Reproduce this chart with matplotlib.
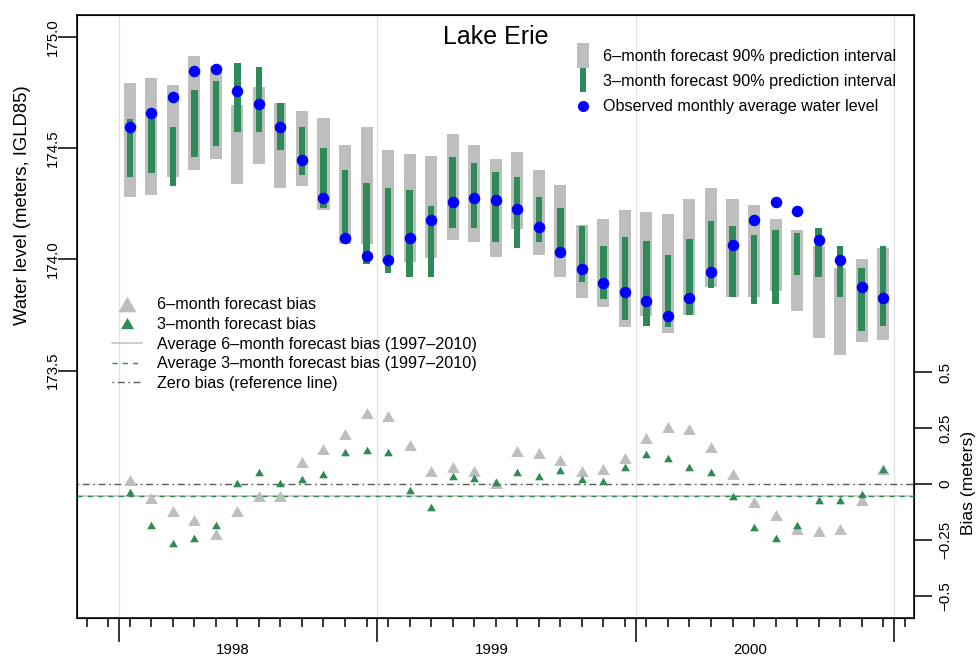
import matplotlib.pyplot as plt
import numpy as np
from matplotlib.lines import Line2D
from matplotlib.transforms import blended_transform_factory

plt.rcParams['font.family'] = ['Liberation Sans', 'DejaVu Sans']

# monthly values Jan 1998 .. Dec 2000 (index 0 = Jan 1998, plotted mid-month)
months = np.arange(36)
years = ['1998', '1999', '2000']

observed = [174.596, 174.656, 174.728, 174.847, 174.856, 174.758, 174.696, 174.596, 174.446, 174.275,
            174.094, 174.015, 173.997, 174.094, 174.175, 174.256, 174.274, 174.265, 174.226, 174.147,
            174.034, 173.955, 173.894, 173.855, 173.813, 173.745, 173.825, 173.945, 174.064, 174.175,
            174.256, 174.216, 174.085, 173.995, 173.876, 173.826]

six_lo = [174.280, 174.289, 174.370, 174.400, 174.449, 174.340, 174.430, 174.319, 174.329, 174.220,
          174.067, 174.069, 173.989, 173.989, 174.007, 174.088, 174.079, 174.009, 174.138, 174.019,
          173.919, 173.828, 173.787, 173.698, 173.747, 173.668, 173.750, 173.877, 173.829, 173.829,
          173.859, 173.769, 173.648, 173.570, 173.629, 173.638]
six_hi = [174.794, 174.814, 174.783, 174.915, 174.870, 174.693, 174.774, 174.704, 174.665, 174.633,
          174.514, 174.593, 174.492, 174.473, 174.463, 174.563, 174.512, 174.452, 174.482, 174.401,
          174.332, 174.153, 174.181, 174.220, 174.211, 174.202, 174.271, 174.322, 174.271, 174.242,
          174.181, 174.132, 174.061, 173.961, 174.001, 174.051]

three_lo = [174.371, 174.389, 174.331, 174.461, 174.511, 174.572, 174.572, 174.491, 174.380, 174.229,
            174.117, 173.979, 173.940, 173.919, 173.919, 174.139, 174.139, 174.079, 174.049, 174.079,
            174.012, 173.900, 173.820, 173.727, 173.700, 173.697, 173.750, 173.870, 173.829, 173.799,
            173.799, 173.930, 173.919, 173.829, 173.680, 173.700]
three_hi = [174.632, 174.641, 174.593, 174.762, 174.802, 174.882, 174.862, 174.702, 174.593, 174.502,
            174.401, 174.341, 174.322, 174.311, 174.241, 174.461, 174.431, 174.391, 174.371, 174.282,
            174.231, 174.150, 174.060, 174.100, 174.081, 174.019, 174.090, 174.171, 174.150, 174.109,
            174.130, 174.120, 174.139, 174.060, 173.960, 174.060]

bias6 = [0.016, -0.064, -0.122, -0.162, -0.224, -0.120, -0.052, -0.052, 0.097, 0.155,
         0.225, 0.316, 0.305, 0.176, 0.057, 0.078, 0.057, 0.006, 0.146, 0.137,
         0.107, 0.057, 0.067, 0.116, 0.206, 0.256, 0.246, 0.167, 0.046, -0.082,
         -0.141, -0.202, -0.211, -0.201, -0.071, 0.066]
bias3 = [-0.037, -0.184, -0.266, -0.244, -0.184, 0.005, 0.055, 0.005, 0.024, 0.045,
         0.143, 0.153, 0.144, -0.025, -0.105, 0.034, 0.025, 0.008, 0.055, 0.034,
         0.064, 0.024, 0.015, 0.075, 0.134, 0.115, 0.075, 0.055, -0.055, -0.192,
         -0.242, -0.183, -0.074, -0.074, -0.044, 0.066]
avg_bias6 = -0.055
avg_bias3 = -0.056

level_ticks = [173.5, 174.0, 174.5, 175.0]
level_labels = ['173.5', '174.0', '174.5', '175.0']
bias_ticks = [-0.5, -0.25, 0, 0.25, 0.5]
bias_labels = ['\u22120.5', '\u22120.25', '0', '0.25', '0.5']

GRAY = '#BEBEBE'
GREEN = '#2E8B57'
ZERO = '#5a5a5a'
DOTDASH = (1.2, 2.6, 5.0, 2.6)
tri = [(-1, -0.866), (1, -0.866), (0, 0.866)]

six_lo = np.array(six_lo); six_hi = np.array(six_hi)
three_lo = np.array(three_lo); three_hi = np.array(three_hi)

fig = plt.figure(figsize=(9.79, 6.59), dpi=100)
ax = fig.add_axes([77 / 979, 41 / 659, 837 / 979, 603 / 659])
ax.set_xlim(-2.45, 36.43)
ax.set_ylim(172.389, 175.0975)

year_edges = [-0.5, 11.5, 23.5, 35.5]
for b in year_edges:
    ax.axvline(b, color='#E2E2E2', lw=0.9, zorder=0)

ax.bar(months, six_hi - six_lo, bottom=six_lo, width=0.56, color=GRAY, zorder=2)
ax.bar(months, three_hi - three_lo, bottom=three_lo, width=0.30, color=GREEN, zorder=3)
ax.plot(months, observed, 'o', color='blue', ms=8.3, mew=0, zorder=4)

ax.set_yticks(level_ticks)
ax.set_yticklabels(level_labels, rotation=90, va='center')
ax.tick_params(axis='y', length=13.7, width=1.1, pad=-1.5, labelsize=10.8)
ax.set_xticks(year_edges)
ax.set_xticklabels([])
ax.set_xticks(np.arange(-2, 37), minor=True)
ax.tick_params(axis='x', which='major', length=17.3, width=1.1)
ax.tick_params(axis='x', which='minor', length=6.5, width=1.1)
for s in ax.spines.values():
    s.set_linewidth(1.1)

trans = blended_transform_factory(ax.transData, ax.transAxes)
for i, yr in enumerate(years):
    ax.text(4.8 + 12 * i, (618 - 649.5) / 603, yr, transform=trans,
            ha='center', va='center', fontsize=10.8)

ax.set_ylabel('Water level (meters, IGLD85)', fontsize=13.3, va='center')
ax.yaxis.set_label_coords(-0.0648, 0.685)

# bias panel on the right-hand scale
ax2 = ax.twinx()
ax2.set_ylim(-0.600, 2.099)
ax2.axhline(0, color=ZERO, lw=1, dashes=DOTDASH, zorder=1)
ax2.axhline(avg_bias6, color=GRAY, lw=1.1, zorder=1)
ax2.axhline(avg_bias3, color=GREEN, lw=1, dashes=(3.7, 3.7), zorder=1)
ax2.plot(months, bias6, ls='none', marker=tri, ms=9.1, mew=0, color=GRAY, zorder=3)
ax2.plot(months, bias3, ls='none', marker=tri, ms=6.3, mew=0, color=GREEN, zorder=4)
ax2.set_yticks(bias_ticks)
ax2.set_yticklabels(bias_labels, rotation=90, va='center')
ax2.tick_params(axis='y', length=13, width=1.1, pad=4.5, labelsize=10.8)
ax2.set_ylabel('Bias (meters)', fontsize=12.6, va='center')
ax2.yaxis.set_label_coords((968.3 - 77) / 837, 0.2239)

ax2.text(0.5, (618 - 37) / 603, 'Lake Erie', transform=ax2.transAxes,
         ha='center', va='center', fontsize=18)

# legends
rect6 = [(-0.24, -0.5), (0.24, -0.5), (0.24, 0.5), (-0.24, 0.5)]
rect3 = [(-0.15, -0.5), (0.15, -0.5), (0.15, 0.5), (-0.15, 0.5)]
h1 = Line2D([], [], ls='none', marker=rect6, ms=18, mew=0, color=GRAY)
h2 = Line2D([], [], ls='none', marker=rect3, ms=16.6, mew=0, color=GREEN)
h3 = Line2D([], [], ls='none', marker='o', ms=8, mew=0, color='blue')
leg1 = ax2.legend([h1, h2, h3],
                  ['6\u2013month forecast 90% prediction interval',
                   '3\u2013month forecast 90% prediction interval',
                   'Observed monthly average water level'],
                  loc='upper left', bbox_to_anchor=(0.595, 0.944), frameon=False,
                  fontsize=11.6, handlelength=1.0, handletextpad=0.75,
                  labelspacing=0.64, borderpad=0, borderaxespad=0)
ax2.add_artist(leg1)

g6 = Line2D([], [], ls='none', marker=tri, ms=13, mew=0, color=GRAY)
g3 = Line2D([], [], ls='none', marker=tri, ms=9.4, mew=0, color=GREEN)
l6 = Line2D([], [], color=GRAY, lw=1.1)
l3 = Line2D([], [], color=GREEN, lw=1, dashes=(3.7, 3.7))
l0 = Line2D([], [], color=ZERO, lw=1, dashes=DOTDASH)
ax2.legend([g6, g3, l6, l3, l0],
           ['6\u2013month forecast bias', '3\u2013month forecast bias',
            'Average 6\u2013month forecast bias (1997\u20132010)',
            'Average 3\u2013month forecast bias (1997\u20132010)',
            'Zero bias (reference line)'],
           loc='upper left', bbox_to_anchor=(0.0418, 0.532), frameon=False,
           fontsize=11.6, handlelength=1.86, handletextpad=0.93,
           labelspacing=0.29, borderpad=0, borderaxespad=0)

fig.savefig('out.png', dpi=100)
